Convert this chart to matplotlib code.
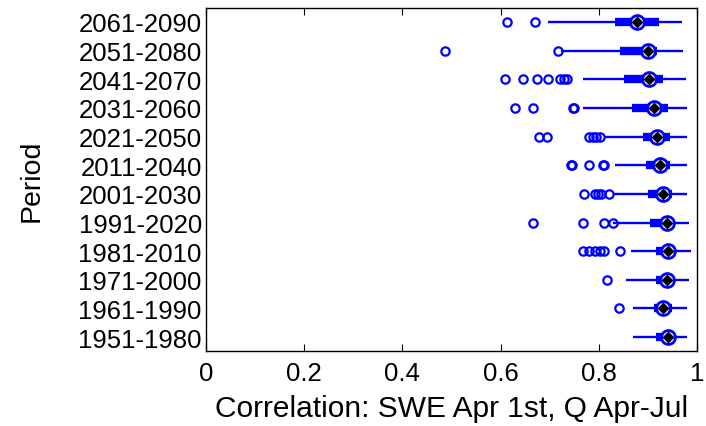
import matplotlib
matplotlib.use("Agg")
import matplotlib.pyplot as plt

plt.rcParams['font.family'] = ['Liberation Sans', 'DejaVu Sans']

# bottom to top
periods = ['1951-1980', '1961-1990', '1971-2000', '1981-2010', '1991-2020', '2001-2030',
           '2011-2040', '2021-2050', '2031-2060', '2041-2070', '2051-2080', '2061-2090']
whisk_lo = [0.869, 0.869, 0.855, 0.865, 0.829, 0.829, 0.833, 0.812, 0.768, 0.767, 0.722, 0.696]
q1 = [0.916, 0.912, 0.916, 0.916, 0.904, 0.900, 0.897, 0.890, 0.868, 0.851, 0.843, 0.833]
median = [0.940, 0.930, 0.938, 0.940, 0.938, 0.930, 0.924, 0.918, 0.912, 0.902, 0.900, 0.877]
q3 = [0.955, 0.950, 0.954, 0.954, 0.950, 0.948, 0.944, 0.945, 0.941, 0.930, 0.918, 0.922]
whisk_hi = [0.979, 0.979, 0.983, 0.987, 0.983, 0.979, 0.979, 0.979, 0.979, 0.977, 0.971, 0.969]
outliers = [
    [],
    [0.841],
    [0.816],
    [0.767, 0.781, 0.792, 0.802, 0.811, 0.844],
    [0.666, 0.767, 0.810, 0.828],
    [0.770, 0.792, 0.798, 0.805, 0.820],
    [0.744, 0.746, 0.780, 0.808, 0.810],
    [0.678, 0.694, 0.780, 0.788, 0.795, 0.802],
    [0.630, 0.666, 0.747, 0.750],
    [0.609, 0.646, 0.674, 0.697, 0.720, 0.729, 0.735],
    [0.487, 0.717],
    [0.613, 0.670],
]

blue = (0, 0, 1)

fig = plt.figure(figsize=(7.06, 4.27), dpi=100)
ax = fig.add_axes([0.2918, 0.1745, 0.6955, 0.8055])

for i in range(len(periods)):
    y = i + 1
    ax.plot([whisk_lo[i], whisk_hi[i]], [y, y], color=blue, lw=1.7, solid_capstyle='butt', zorder=2)
    ax.plot([q1[i], q3[i]], [y, y], color=blue, lw=6, solid_capstyle='butt', zorder=3)
    if outliers[i]:
        ax.plot(outliers[i], [y] * len(outliers[i]), 'o', ms=6, mfc='none', mec=blue, mew=1.6, zorder=2)
    ax.plot(median[i], y, 'o', ms=10, mfc='white', mec=blue, mew=2, zorder=4)
    ax.plot(median[i], y, 'D', ms=5, mfc='black', mec='black', zorder=5)

ax.set_xlim(0, 1)
ax.set_ylim(0.5, 12.5)
ax.set_xticks([0, 0.2, 0.4, 0.6, 0.8, 1])
ax.set_xticklabels(['0', '0.2', '0.4', '0.6', '0.8', '1'])
ax.set_yticks(range(1, 13))
ax.set_yticklabels(periods)
ax.tick_params(axis='x', direction='in', length=5, top=True, labelsize=18.5, pad=7)
ax.tick_params(axis='y', length=0, labelsize=18.5, pad=3)
for s in ax.spines.values():
    s.set_linewidth(1.0)
ax.set_xlabel('Correlation: SWE Apr 1st, Q Apr-Jul', fontsize=21.5, labelpad=6)
ax.set_ylabel('Period', fontsize=20.5, labelpad=24)

fig.savefig('out.png', dpi=100)
